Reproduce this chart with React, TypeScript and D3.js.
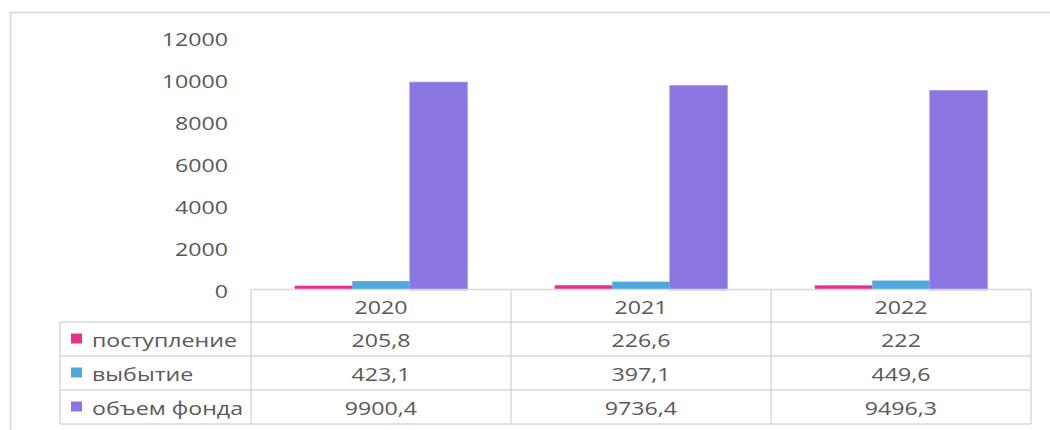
import * as d3 from 'd3'

const YEARS = ['2020', '2021', '2022']
const SERIES = ['поступление', 'выбытие', 'объем фонда']
const INFLOW = [205.8, 226.6, 222]
const OUTFLOW = [423.1, 397.1, 449.6]
const VOLUME = [9900.4, 9736.4, 9496.3]
const LABELS = [
  ['205,8', '226,6', '222'],
  ['423,1', '397,1', '449,6'],
  ['9900,4', '9736,4', '9496,3'],
]
const Y_TICKS = [0, 2000, 4000, 6000, 8000, 10000, 12000]

const COLORS = ['#E6328F', '#4FA7DC', '#8A75E1']
const GRID = '#d9d9d9'
const TEXT = '#595959'
const FONT = '"Open Sans", "Noto Sans", sans-serif'
const SX = 1.22

const Label = ({ x, y, anchor = 'middle', children }: any) => (
  <text
    transform={`translate(${x},${y}) scale(${SX},1)`}
    textAnchor={anchor}
    dominantBaseline="central"
    fontSize={19}
    fill={TEXT}
    fontFamily={FONT}
  >
    {children}
  </text>
)

export default function App() {
  const width = 1050
  const height = 430
  const values = [INFLOW, OUTFLOW, VOLUME]

  const x = d3.scaleBand<string>().domain(YEARS).range([251, 1031])
  const bw = x.bandwidth()
  const xInner = d3.scaleBand<string>().domain(SERIES).range([bw * 0.168, bw * 0.832])
  const y = d3.scaleLinear().domain([0, 12000]).range([290, 38])

  const rowTop = [322, 356, 390]
  const rowH = 34
  const tableBottom = 424
  const legendLeft = 60

  return (
    <svg
      width={width}
      height={height}
      style={{ position: 'absolute', left: 0, top: 0, background: '#fff' }}
    >
      {/* outer frame */}
      <rect x={10.5} y={12.5} width={1200} height={600} fill="none" stroke={GRID} strokeWidth={1.5} />

      {/* y axis labels */}
      {Y_TICKS.map(t => (
        <Label key={t} x={228} y={y(t)} anchor="end">{t}</Label>
      ))}

      {/* bars */}
      {YEARS.map((yr, i) => (
        <g key={yr} transform={`translate(${x(yr)},0)`}>
          {SERIES.map((s, j) => (
            <rect
              key={s}
              x={xInner(s)}
              y={y(values[j][i])}
              width={xInner.bandwidth()}
              height={y(0) - y(values[j][i])}
              fill={COLORS[j]}
              stroke={j === 2 ? '#a595ea' : 'none'}
              strokeWidth={0.8}
            />
          ))}
        </g>
      ))}

      {/* data table lines */}
      <g stroke={GRID} strokeWidth={1.5}>
        <line x1={251} x2={1031} y1={289.5} y2={289.5} />
        {rowTop.concat([tableBottom]).map(ry => (
          <line key={ry} x1={legendLeft} x2={1031} y1={ry} y2={ry} />
        ))}
        <line x1={legendLeft} x2={legendLeft} y1={rowTop[0]} y2={tableBottom} />
        {YEARS.map(yr => (
          <line key={yr} x1={x(yr)} x2={x(yr)} y1={289.5} y2={tableBottom} />
        ))}
        <line x1={1031} x2={1031} y1={289.5} y2={tableBottom} />
      </g>

      {/* header */}
      {YEARS.map(yr => (
        <Label key={yr} x={(x(yr) as number) + bw / 2} y={306}>{yr}</Label>
      ))}

      {/* rows */}
      {SERIES.map((s, j) => (
        <g key={s}>
          <rect x={71} y={rowTop[j] + rowH / 2 - 5.5} width={11} height={10} fill={COLORS[j]} />
          <Label x={92} y={rowTop[j] + rowH / 2} anchor="start">{s}</Label>
          {YEARS.map((yr, i) => (
            <Label key={yr} x={(x(yr) as number) + bw / 2} y={rowTop[j] + rowH / 2}>
              {LABELS[j][i]}
            </Label>
          ))}
        </g>
      ))}
    </svg>
  )
}
